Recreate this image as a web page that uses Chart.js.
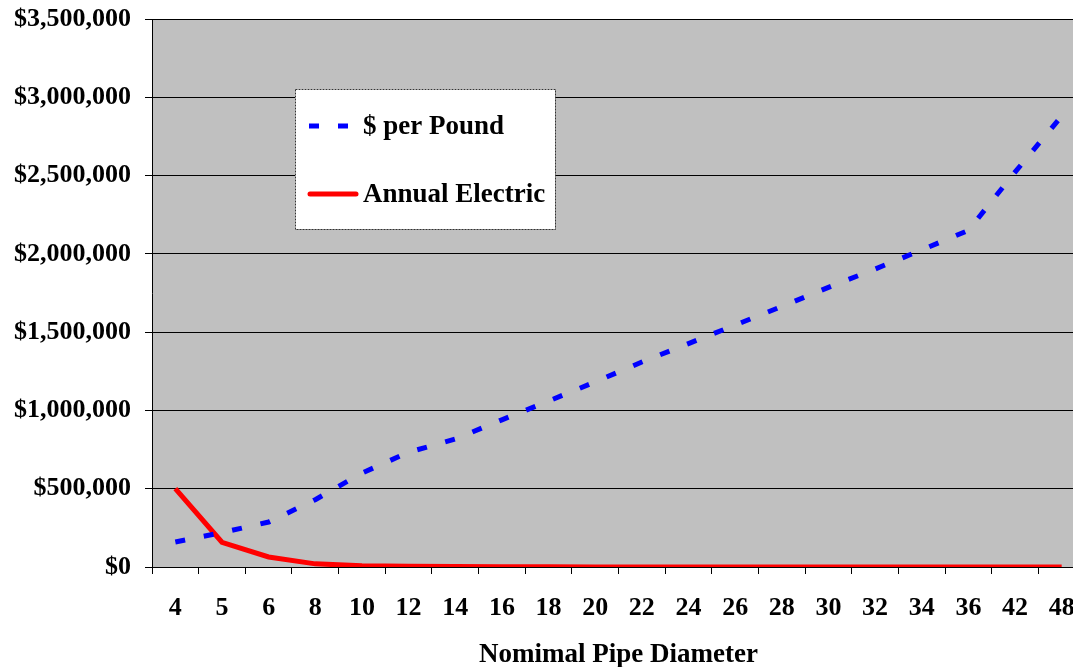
<!DOCTYPE html>
<html>
<head>
<meta charset="utf-8">
<script src="https://cdn.jsdelivr.net/npm/chart.js@4/dist/chart.umd.min.js"></script>
<style>
  html, body { margin: 0; padding: 0; background: #fff; overflow: hidden; }
  #pipeChart { display: block; }
</style>
</head>
<body>
<canvas id="pipeChart" width="1090" height="667"></canvas>
<script>
const diameters = ["4", "5", "6", "8", "10", "12", "14", "16", "18", "20",
  "22", "24", "26", "28", "30", "32", "34", "36", "42", "48"];

const perPound = [160000, 220000, 287000, 430000, 600000, 733000, 817000, 940000,
  1060000, 1182000, 1309000, 1427000, 1545000, 1664000, 1786000, 1903000,
  2025000, 2150000, 2522000, 2880000];

const annualElectric = [500000, 158000, 64000, 20000, 8000, 4000, 2500, 1500,
  1000, 700, 500, 400, 300, 200, 150, 120, 100, 80, 50, 30];

const yTicks = [0, 500000, 1000000, 1500000, 2000000, 2500000, 3000000, 3500000];

const serif = "'Liberation Serif', 'Times New Roman', serif";

// gray plot background
const plotBackground = {
  id: "plotBackground",
  beforeDraw(chart) {
    const { ctx, chartArea: a } = chart;
    ctx.save();
    ctx.fillStyle = "#c0c0c0";
    ctx.fillRect(a.left, a.top, a.right - a.left, a.bottom - a.top);
    ctx.restore();
  },
};

// legend box sitting inside the plot
const boxLegend = {
  id: "boxLegend",
  afterDraw(chart) {
    const { ctx, chartArea: a } = chart;
    const x = a.left + 143;
    const y = a.top + 70;
    const w = 260;
    const h = 140;
    ctx.save();
    ctx.fillStyle = "#ffffff";
    ctx.fillRect(x, y, w, h);
    ctx.strokeStyle = "#333333";
    ctx.lineWidth = 1;
    ctx.setLineDash([2, 1]);
    ctx.strokeRect(x + 0.5, y + 0.5, w, h);

    const ds = chart.data.datasets;
    const rows = [y + 37, y + 105];
    ctx.font = "bold 27px " + serif;
    ctx.textBaseline = "middle";
    ctx.textAlign = "left";
    ds.forEach((d, i) => {
      ctx.beginPath();
      ctx.strokeStyle = d.borderColor;
      ctx.lineWidth = d.borderWidth;
      if (d.borderDash) {
        ctx.setLineDash(d.borderDash);
        ctx.lineCap = "butt";
        ctx.moveTo(x + 14, rows[i]);
        ctx.lineTo(x + 54, rows[i]);
      } else {
        ctx.setLineDash([]);
        ctx.lineCap = "round";
        ctx.moveTo(x + 15, rows[i]);
        ctx.lineTo(x + 61, rows[i]);
      }
      ctx.stroke();
      ctx.fillStyle = "#000000";
      ctx.fillText(d.label, x + 68, rows[i] + 1);
    });
    ctx.restore();
  },
};

const ctx = document.getElementById("pipeChart").getContext("2d");
new Chart(ctx, {
  type: "line",
  data: {
    labels: diameters,
    datasets: [
      {
        label: "$ per Pound",
        data: perPound,
        borderColor: "#0000ff",
        borderWidth: 5,
        borderDash: [10, 19],
        pointRadius: 0,
        tension: 0,
        fill: false,
      },
      {
        label: "Annual Electric",
        data: annualElectric,
        borderColor: "#ff0000",
        borderWidth: 5,
        pointRadius: 0,
        tension: 0,
        fill: false,
      },
    ],
  },
  options: {
    responsive: false,
    animation: false,
    layout: { padding: { top: 19, right: 5, left: 0, bottom: 0 } },
    plugins: {
      legend: { display: false },
      tooltip: { enabled: false },
    },
    scales: {
      x: {
        offset: true,
        afterFit(scale) {
          scale.height = 100;
          scale.paddingLeft = 0;
          scale.paddingRight = 0;
        },
        grid: {
          drawOnChartArea: false,
          drawTicks: true,
          tickLength: 7,
          color: "#000000",
          offset: true,
        },
        border: { display: true, color: "#000000", width: 1 },
        ticks: {
          color: "#000000",
          padding: 19,
          maxRotation: 0,
          autoSkip: false,
          font: { family: serif, size: 26, weight: "bold" },
        },
        title: {
          display: true,
          text: "Nomimal Pipe Diameter",
          color: "#000000",
          padding: { top: 0, bottom: -2 },
          font: { family: serif, size: 27, weight: "bold", lineHeight: 1 },
        },
      },
      y: {
        min: 0,
        max: 3500000,
        afterFit(scale) {
          scale.width = 152;
          scale.paddingTop = 0;
          scale.paddingBottom = 0;
        },
        afterBuildTicks(scale) {
          scale.ticks = yTicks.map((v) => ({ value: v }));
        },
        grid: {
          color: "#000000",
          lineWidth: 1,
          drawTicks: true,
          tickLength: 7,
        },
        border: { display: true, color: "#000000", width: 1 },
        ticks: {
          color: "#000000",
          padding: 14,
          font: { family: serif, size: 26, weight: "bold" },
          callback: (v) => "$" + Number(v).toLocaleString("en-US"),
        },
      },
    },
  },
  plugins: [plotBackground, boxLegend],
});
</script>
</body>
</html>
